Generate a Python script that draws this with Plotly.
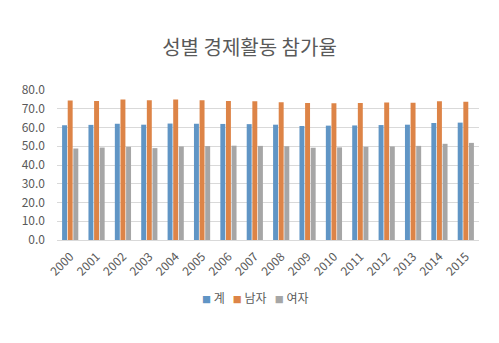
import plotly.graph_objects as go

# 연도별 성별 경제활동 참가율 (%)
years = [str(y) for y in range(2000, 2016)]
total = [61.2, 61.4, 62.0, 61.5, 62.1, 62.0, 61.9, 61.8, 61.5, 60.8, 61.0, 61.1, 61.3, 61.5, 62.4, 62.6]
male = [74.4, 74.2, 75.0, 74.6, 75.0, 74.6, 74.1, 74.0, 73.5, 73.1, 73.0, 73.1, 73.3, 73.2, 74.0, 73.8]
female = [48.8, 49.3, 49.7, 49.0, 49.9, 50.1, 50.3, 50.2, 50.0, 49.2, 49.4, 49.7, 49.9, 50.2, 51.3, 51.8]

series_names = ["계", "남자", "여자"]
colors = ["#6095C5", "#DD8447", "#A6A6A6"]

font_family = "Noto Sans CJK KR, Noto Sans, sans-serif"
text_color = "#595959"

fig = go.Figure()
for name, vals, c in zip(series_names, [total, male, female], colors):
    fig.add_trace(go.Bar(x=years, y=vals, name=name, marker_color=c,
                         marker_line_width=0, showlegend=False))

# compact legend row below the axis: small coloured square + series name
legend_text = "&nbsp;&nbsp;&nbsp;".join(
    f"<span style='color:{c};font-size:9px'>■</span>&nbsp;{n}"
    for n, c in zip(series_names, colors)
)
fig.add_annotation(text=legend_text, xref="paper", yref="paper",
                   x=0.47, xanchor="center", y=-(297 - 240) / 150,
                   yanchor="middle", showarrow=False,
                   font=dict(size=12, color=text_color, family=font_family))

fig.update_layout(
    width=499, height=343,
    margin=dict(l=57, r=20, t=90, b=103),
    paper_bgcolor="white", plot_bgcolor="white",
    font=dict(family=font_family, color=text_color, size=12),
    title=dict(text="성별 경제활동 참가율", x=0.5, xanchor="center",
               y=1 - 48 / 343, yanchor="middle",
               font=dict(size=20, color=text_color, family=font_family)),
    barmode="group", bargap=0.36, bargroupgap=0.12,
    showlegend=False,
)
fig.update_yaxes(range=[0, 80], dtick=10, tickformat=".1f",
                 showgrid=True, gridcolor="#D9D9D9", gridwidth=1,
                 zeroline=False, showline=False, ticks="",
                 ticklabelstandoff=11,
                 tickfont=dict(size=12, color=text_color))
fig.update_xaxes(tickangle=-45, showline=True, linecolor="#D9D9D9",
                 showgrid=False, ticks="", ticklabelstandoff=4,
                 tickfont=dict(size=12, color=text_color))

fig.write_html("out.html")
